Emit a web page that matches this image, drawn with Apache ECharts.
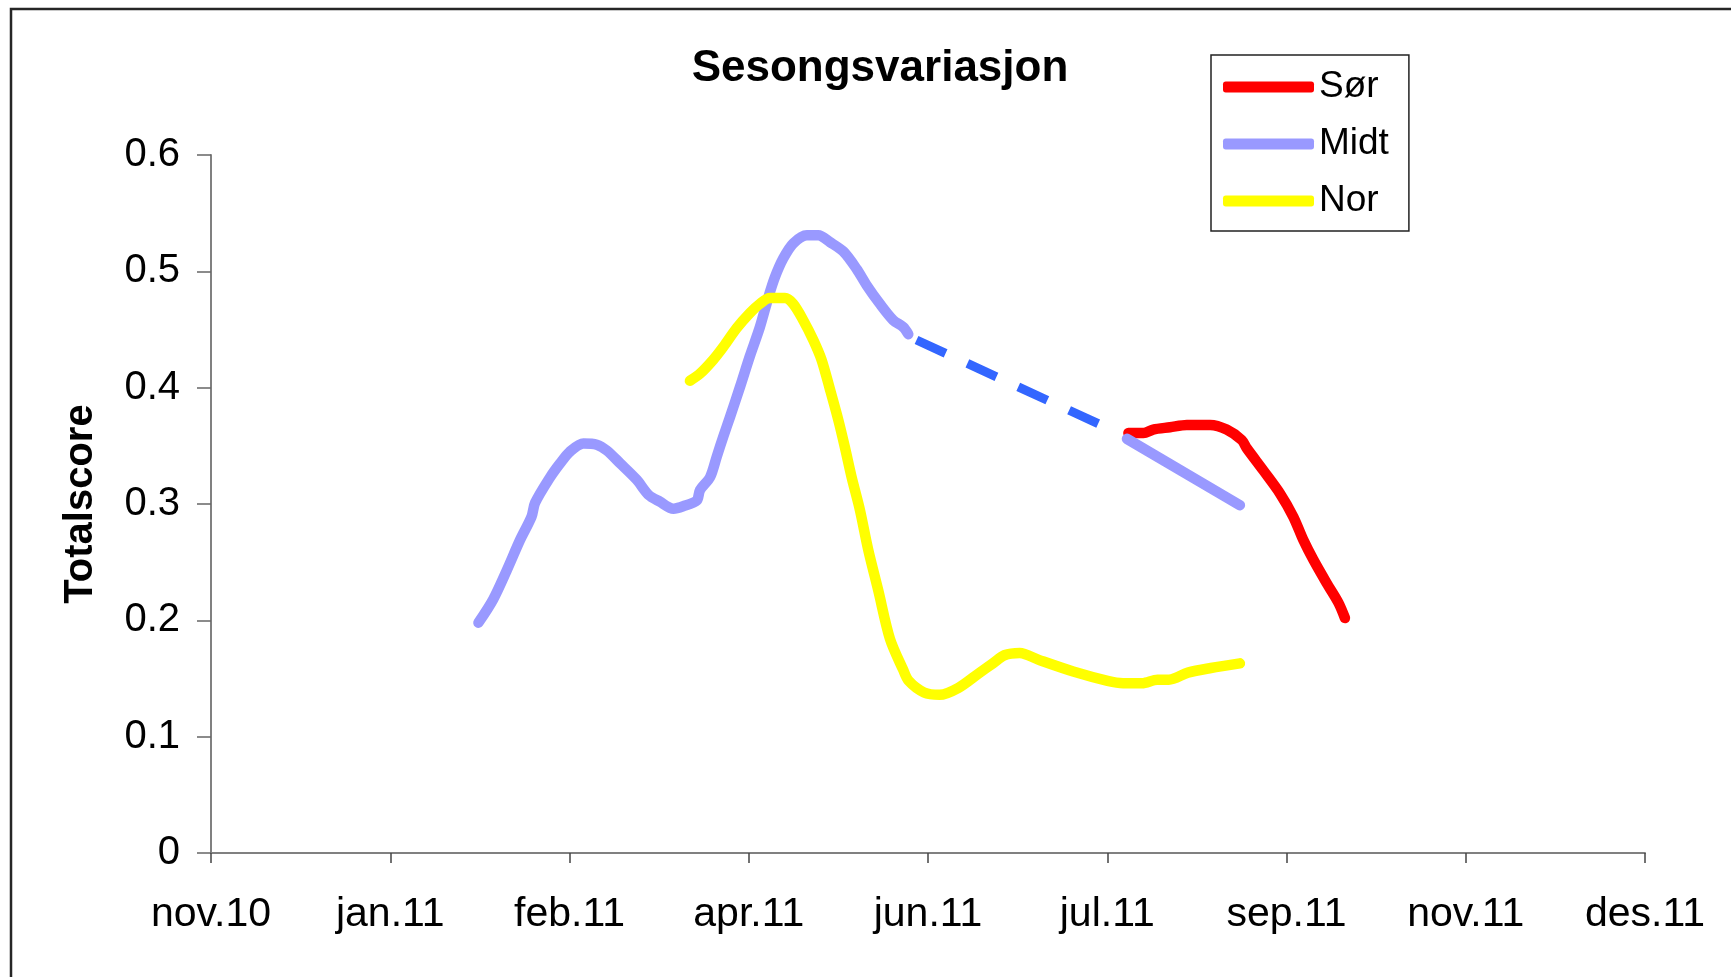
<!DOCTYPE html>
<html>
<head>
<meta charset="utf-8">
<script src="https://cdn.jsdelivr.net/npm/echarts@6/dist/echarts.min.js"></script>
<style>
  html, body { margin: 0; padding: 0; background: #fff; }
  #chart { width: 1731px; height: 977px; }
</style>
</head>
<body>
<div id="chart"></div>
<script>
// x values are days counted from 18 Nov 2010, ticks every 50 days
const xTickLabels = ['nov.10', 'jan.11', 'feb.11', 'apr.11', 'jun.11', 'jul.11', 'sep.11', 'nov.11', 'des.11'];
const yTickLabels = ['0', '0.1', '0.2', '0.3', '0.4', '0.5', '0.6'];

const sorData = [
  [255.9, 0.361], [260.1, 0.361], [262.8, 0.364], [267.5, 0.366], [272.2, 0.368],
  [278.7, 0.368], [283.3, 0.364], [287.5, 0.355], [288.9, 0.348], [293.5, 0.329],
  [298.2, 0.309], [301.9, 0.289], [304.7, 0.269], [307.5, 0.252], [311.2, 0.232],
  [314.5, 0.215], [316.3, 0.202]
];

const midtData = [
  [74.6, 0.198], [78.7, 0.218], [82.5, 0.243], [86.2, 0.269], [89.4, 0.289],
  [90.4, 0.301], [94.6, 0.323], [97.4, 0.335], [100.1, 0.345], [103.9, 0.352],
  [107.6, 0.351], [110.4, 0.346], [114.1, 0.335], [118.7, 0.321], [122.0, 0.308],
  [125.2, 0.302], [129.0, 0.296], [131.7, 0.298], [135.5, 0.303], [136.4, 0.312],
  [139.2, 0.323], [141.1, 0.341], [142.9, 0.358], [144.8, 0.375], [147.6, 0.401],
  [150.3, 0.427], [153.1, 0.452], [155.5, 0.478], [157.3, 0.495], [159.6, 0.511],
  [162.4, 0.524], [166.2, 0.531], [169.4, 0.531], [172.7, 0.525], [176.4, 0.517],
  [180.1, 0.502], [182.9, 0.488], [186.6, 0.472], [190.3, 0.458], [193.1, 0.452],
  [194.5, 0.446],
  null,
  [255.5, 0.356], [287.0, 0.299]
];

const gapData = [[196.8, 0.441], [247.5, 0.369]];

const norData = [
  [133.6, 0.406], [136.4, 0.412], [140.1, 0.424], [142.9, 0.435], [146.6, 0.451],
  [150.3, 0.464], [153.1, 0.472], [155.9, 0.477], [160.1, 0.477], [162.4, 0.472],
  [165.2, 0.458], [168.0, 0.441], [170.3, 0.424], [172.7, 0.398], [175.0, 0.372],
  [176.8, 0.349], [178.7, 0.323], [181.0, 0.295], [183.3, 0.261], [186.1, 0.226],
  [189.4, 0.184], [193.0, 0.158], [194.6, 0.148], [198.9, 0.138], [203.2, 0.136],
  [208.5, 0.142], [214.4, 0.155], [218.1, 0.163], [221.3, 0.170], [225.6, 0.172],
  [230.9, 0.166], [240.5, 0.156], [250.1, 0.148], [254.4, 0.146], [259.7, 0.146],
  [264.0, 0.149], [267.2, 0.149], [272.5, 0.155], [278.9, 0.159], [287.0, 0.163]
];

const font = '"Liberation Sans", Arial, sans-serif';

const chart = echarts.init(document.getElementById('chart'));

const lineSeries = (name, data, color) => ({
  name: name,
  type: 'line',
  data: data,
  showSymbol: false,
  symbol: 'none',
  smooth: 0.3,
  connectNulls: false,
  lineStyle: { color: color, width: 10.5, cap: 'round', join: 'round' },
  itemStyle: { color: color },
  emphasis: { disabled: true },
  z: 3
});

chart.setOption({
  animation: false,
  backgroundColor: '#fff',
  graphic: [
    {
      type: 'rect',
      shape: { x: 11, y: 9, width: 1780, height: 1020 },
      style: { fill: 'none', stroke: '#262626', lineWidth: 2.5 },
      silent: true
    },
    {
      type: 'text',
      x: 880,
      y: 69,
      style: {
        text: 'Sesongsvariasjon',
        font: 'bold 44px ' + font,
        fill: '#000',
        textAlign: 'center',
        textVerticalAlign: 'middle'
      }
    }
  ],
  legend: {
    data: ['Sør', 'Midt', 'Nor'],
    orient: 'vertical',
    left: 1211,
    top: 55,
    padding: [12, 20, 10, 12],
    itemWidth: 91,
    itemHeight: 11,
    itemGap: 17,
    icon: 'roundRect',
    borderColor: '#222',
    borderWidth: 1.5,
    backgroundColor: '#fff',
    textStyle: { fontFamily: font, fontSize: 37, color: '#000', lineHeight: 40 }
  },
  grid: { left: 211, right: 86, top: 155, bottom: 124 },
  xAxis: {
    type: 'value',
    min: 0,
    max: 400,
    interval: 50,
    axisLine: { lineStyle: { color: '#808080', width: 2 } },
    axisTick: { length: 10, lineStyle: { color: '#444', width: 1.5 } },
    splitLine: { show: false },
    axisLabel: {
      margin: 41,
      fontFamily: font,
      fontSize: 41,
      color: '#000',
      formatter: v => xTickLabels[Math.round(v / 50)]
    }
  },
  yAxis: {
    type: 'value',
    min: 0,
    max: 0.6,
    interval: 0.1,
    name: 'Totalscore',
    nameLocation: 'middle',
    nameGap: 110,
    nameTextStyle: { fontFamily: font, fontSize: 40, fontWeight: 'bold', color: '#000' },
    axisLine: { show: true, lineStyle: { color: '#808080', width: 2 } },
    axisTick: { show: true, length: 14, lineStyle: { color: '#666', width: 1.5 } },
    splitLine: { show: false },
    axisLabel: {
      margin: 31,
      fontFamily: font,
      fontSize: 40,
      color: '#000',
      formatter: v => yTickLabels[Math.round(v * 10)]
    }
  },
  series: [
    lineSeries('Sør', sorData, '#ff0000'),
    lineSeries('Midt', midtData, '#9999ff'),
    lineSeries('Nor', norData, '#ffff00'),
    {
      name: 'gap',
      type: 'line',
      data: gapData,
      symbol: 'none',
      lineStyle: { color: '#3366ff', width: 9, type: [32, 24], cap: 'butt' },
      emphasis: { disabled: true },
      z: 2
    }
  ]
});
</script>
</body>
</html>
